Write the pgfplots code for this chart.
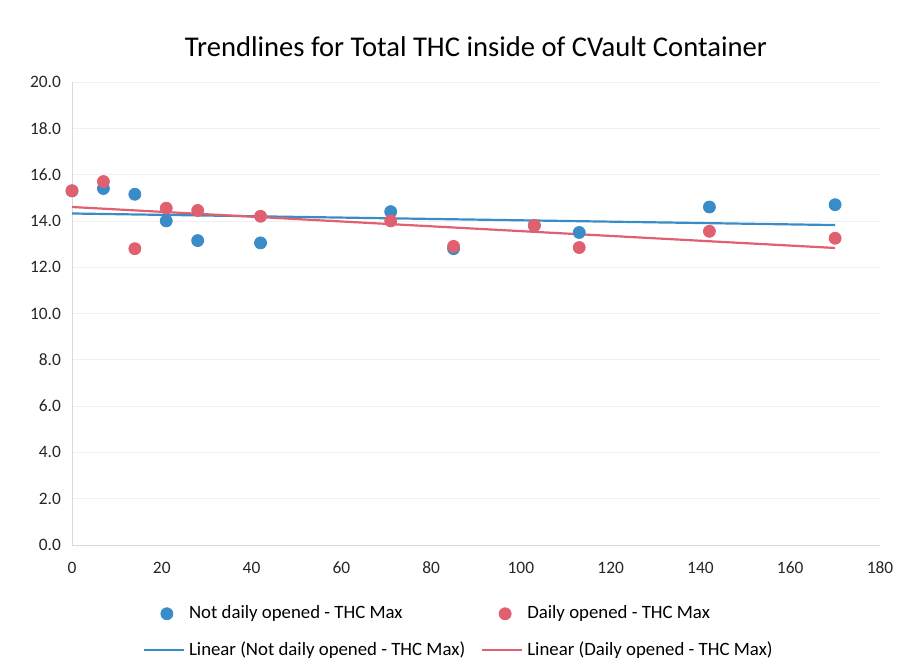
\documentclass[border=0pt]{standalone}
\usepackage{pgfplots}
\pgfplotsset{compat=1.18}
\usepackage{fontspec}
\setmainfont{Carlito}
\definecolor{cblue}{HTML}{3A8CC8}
\definecolor{cred}{HTML}{E0606F}
\begin{document}
\begin{tikzpicture}
\path[use as bounding box] (-36pt,-57pt) rectangle (414.5pt,272.5pt);
\begin{axis}[
  at={(0pt,0pt)}, anchor=origin,
  scale only axis, width=404pt, height=231.5pt,
  xmin=0, xmax=180, ymin=0, ymax=20,
  xtick={0,20,...,180}, ytick={0,2,...,20},
  yticklabel style={xshift=-2pt, /pgf/number format/.cd, fixed, fixed zerofill, precision=1},
  /pgf/number format/assume math mode=true,
  tick label style={font=\fontsize{8.7}{10}\selectfont, text=black!85},
  xticklabel style={yshift=-5pt},
  major tick length=0pt,
  axis x line=bottom, axis y line=left,
  axis line style={gray!30, -},
  ymajorgrids, grid style={gray!12},
  title={Trendlines for Total THC inside of CVault Container},
  title style={font=\fontsize{14.3}{16}\selectfont, yshift=3pt},
  legend columns=2,
  legend style={draw=none, at={(0.48,-0.113)}, anchor=north, font=\fontsize{9.4}{11}\selectfont,
    /tikz/every even column/.append style={column sep=6pt}, row sep=6pt},
  legend cell align=left,
  clip=false,
]
\addplot[only marks, mark=*, mark size=3pt, cblue, mark options={draw=cblue, fill=cblue}] coordinates {
(0,15.3) (7,15.4) (14,15.15) (21,14.0) (28,13.15) (42,13.05) (71,14.4) (85,12.8) (103,13.8) (113,13.5) (142,14.6) (170,14.7)
};
\addlegendentry{Not daily opened - THC Max}
\addplot[only marks, mark=*, mark size=3pt, cred, mark options={draw=cred, fill=cred}] coordinates {
(0,15.3) (7,15.7) (14,12.8) (21,14.55) (28,14.45) (42,14.2) (71,14.0) (85,12.9) (103,13.8) (113,12.85) (142,13.55) (170,13.25)
};
\addlegendentry{Daily opened - THC Max}
\addplot[cblue, line width=1.1pt, legend image code/.code={\draw[cblue, line width=1.1pt] (-0.1cm,0) -- (0.6cm,0);}] coordinates {(0,14.32) (170,13.82)};
\addlegendentry{Linear (Not daily opened - THC Max)}
\addplot[cred, line width=1.1pt, legend image code/.code={\draw[cred, line width=1.1pt] (-0.1cm,0) -- (0.6cm,0);}] coordinates {(0,14.6) (170,12.83)};
\addlegendentry{Linear (Daily opened - THC Max)}
\end{axis}
\end{tikzpicture}
\end{document}
